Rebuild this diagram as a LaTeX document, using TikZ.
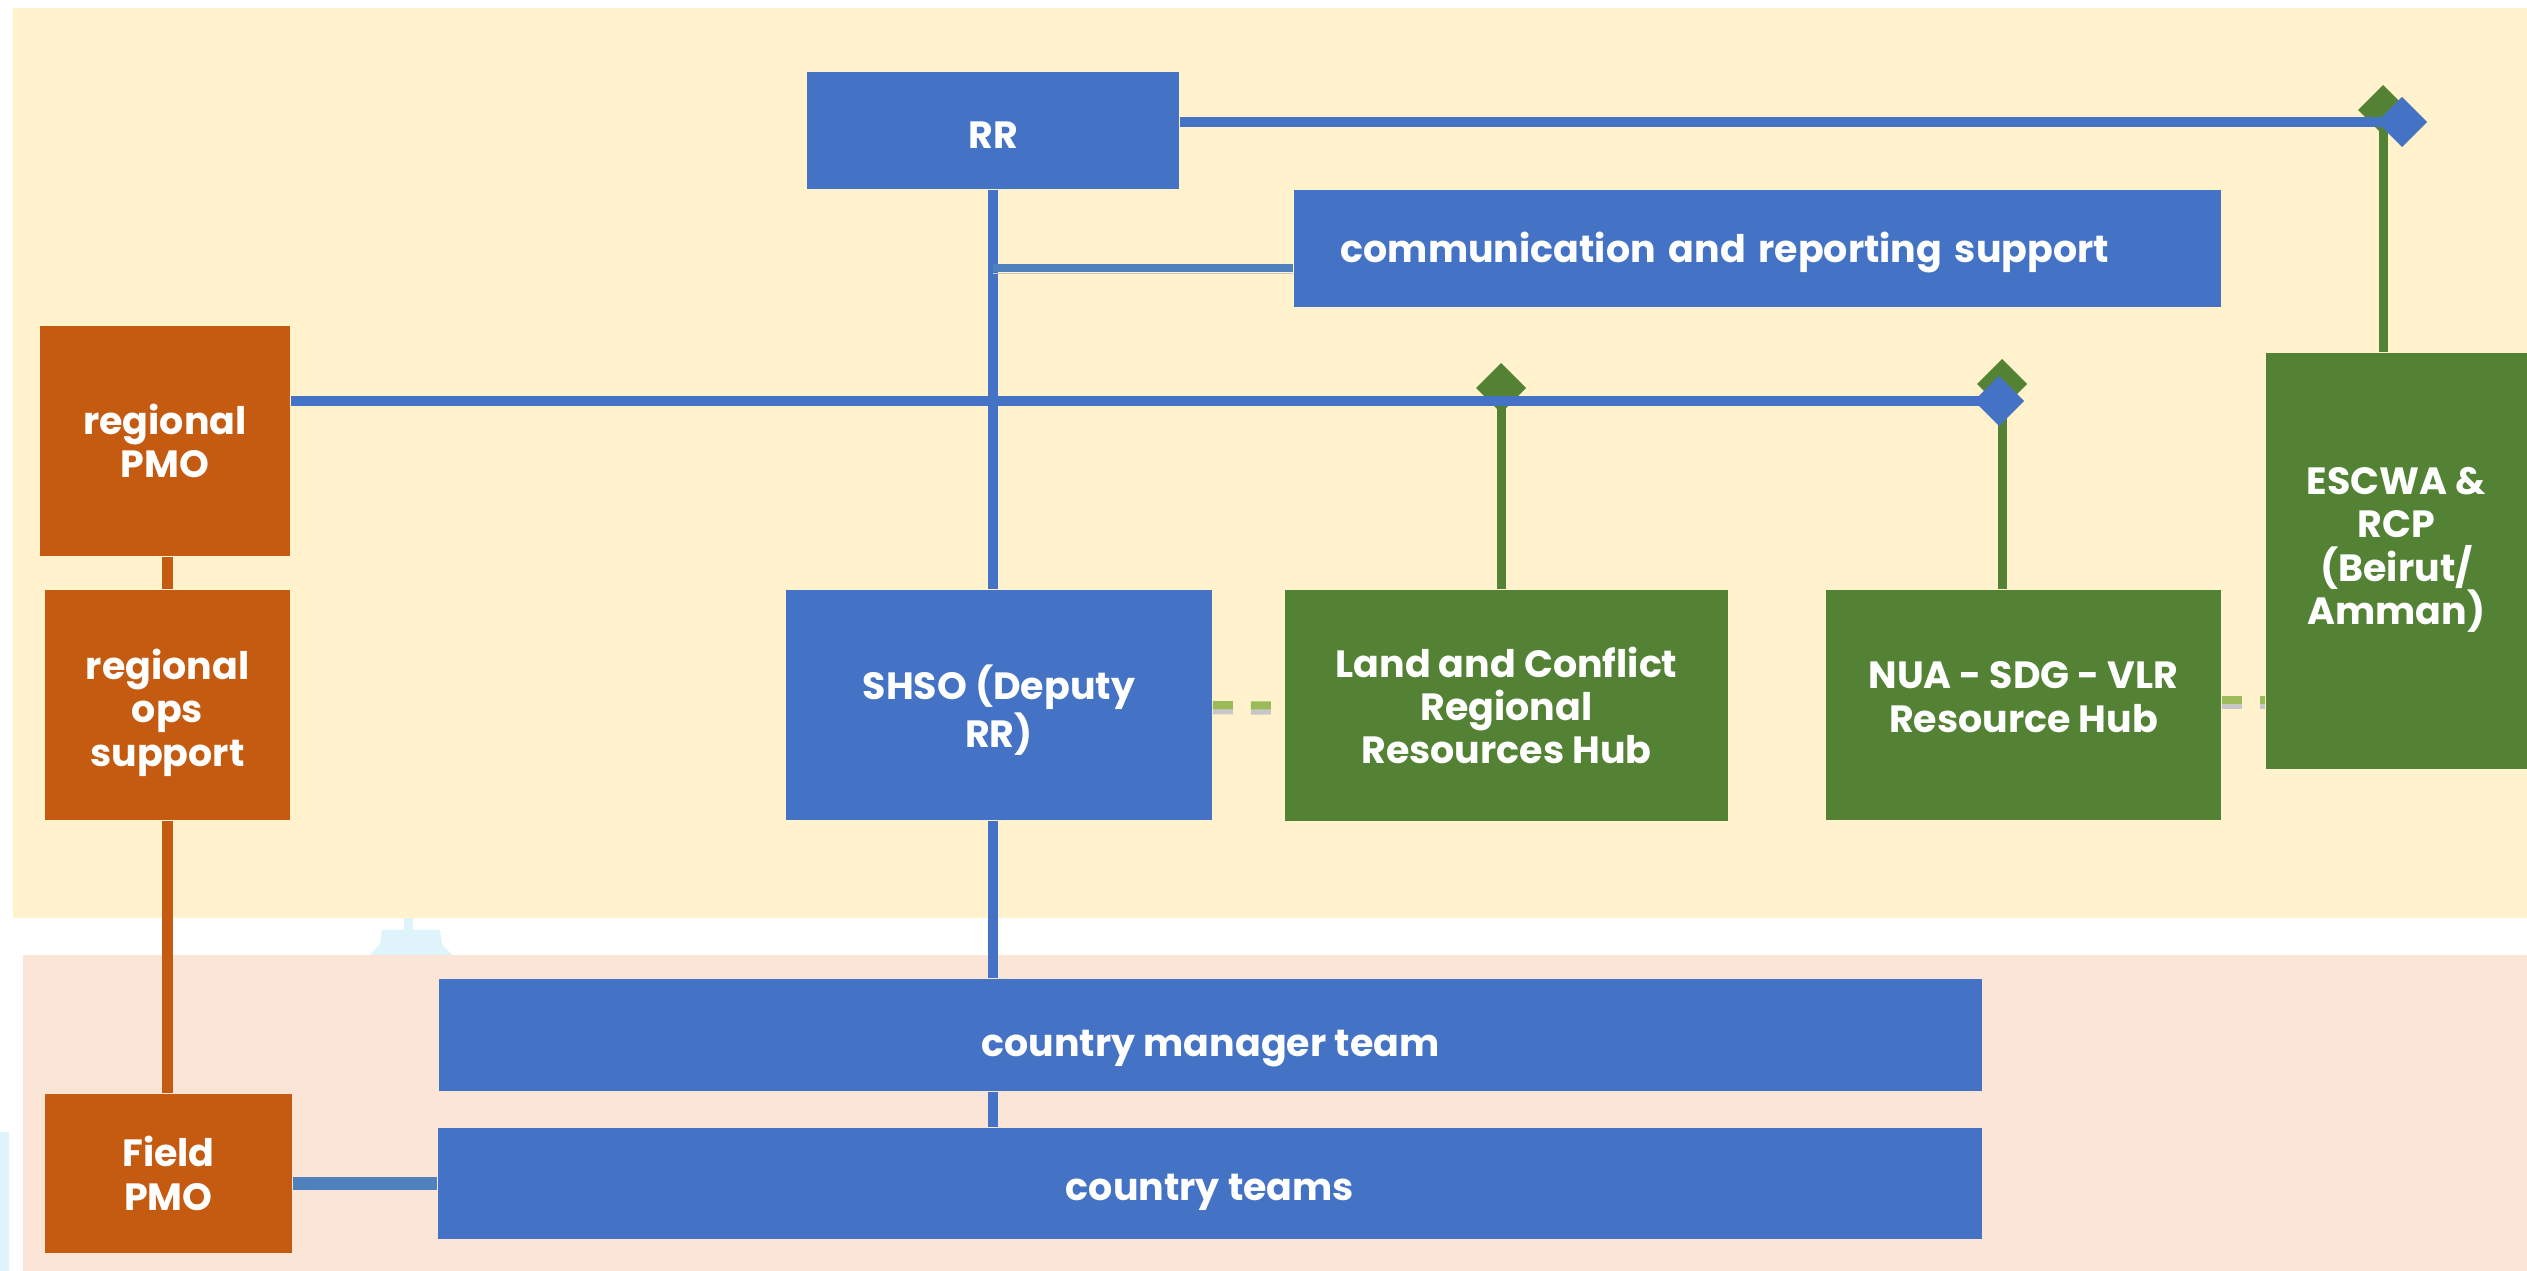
\documentclass[tikz,border=0pt]{standalone}
\usepackage{fontspec}
\setmainfont{Poppins}
\usetikzlibrary{arrows.meta,positioning}

\definecolor{bgyellow}{HTML}{FFF2CC}
\definecolor{bgpink}{HTML}{FBE5D6}
\definecolor{rrblue}{HTML}{4472C4}
\definecolor{linkblue}{HTML}{4F81BD}
\definecolor{hubgreen}{HTML}{548235}
\definecolor{dashgreen}{HTML}{9BBB59}
\definecolor{pmoorange}{HTML}{C55A11}
\definecolor{ghostblue}{HTML}{DFF3FA}

\newcommand{\boxfont}{\fontsize{10.8}{12.3}\selectfont\bfseries}
% struts to nudge box text down (first line) or up (last line)
\newcommand{\down}[1]{\rule{0pt}{#1}}
\newcommand{\up}[1]{\rule[-#1]{0pt}{0pt}}

\begin{document}
\begin{tikzpicture}[x=0.01cm, y=-0.01cm,
    unit/.style={rectangle, text=white, font=\boxfont, align=center, inner sep=0pt},
    bluebox/.style={unit, fill=rrblue},
    hubbox/.style={unit, fill=hubgreen},
    pmobox/.style={unit, fill=pmoorange},
    blueline/.style={draw=rrblue, line width=0.1cm},
    greenline/.style={draw=hubgreen, line width=0.09cm},
    pmoline/.style={draw=pmoorange, line width=0.1cm},
    linkline/.style={draw=linkblue, line width=0.08cm},
    dashlink/.style={draw=dashgreen, line width=0.08cm, dash pattern=on 0.2cm off 0.18cm,
        preaction={draw=black!22, line width=0.08cm, dash pattern=on 0.2cm off 0.18cm,
                   transform canvas={yshift=-1.5pt}}},
    shadowed/.style={preaction={draw=black!22, transform canvas={yshift=-1.5pt}}},
    tip/.style={-{Diamond[length=0.5cm,width=0.5cm]}}
]
    \useasboundingbox (0,0) rectangle (2527,1271);
    % backgrounds
    \fill[white] (0,0) rectangle (2527,1271);
    \fill[bgyellow] (13,8) rectangle (2527,918);
    \fill[bgpink] (23,955) rectangle (2527,1271);
    \fill[ghostblue] (404,918) rectangle (413,932);
    \fill[ghostblue] (382,930) -- (440,930) -- (442,944) -- (452,955) -- (370,955) -- (380,944) -- cycle;
    \fill[ghostblue] (0,1132) rectangle (9,1271);

    % boxes
    \node[bluebox, minimum width=3.72cm, minimum height=1.17cm] (rr) at (993,130.5) {\down{0.36cm}RR};
    \node[bluebox, minimum width=9.27cm, minimum height=1.17cm, text width=8.33cm,
          align=left, inner xsep=0.47cm] (comm) at (1757.5,248.5) {\down{0.38cm}communication and reporting support};
    \node[pmobox, minimum width=2.5cm, minimum height=2.3cm] (rpmo) at (165,441) {regional\\PMO};
    \node[pmobox, minimum width=2.45cm, minimum height=2.3cm] (ops) at (167.5,705) {\down{0.46cm}regional\\ops\\support};
    \node[pmobox, minimum width=2.47cm, minimum height=1.59cm] (fpmo) at (168.5,1173.5) {Field\\PMO};
    \node[bluebox, minimum width=4.26cm, minimum height=2.3cm] (shso) at (999,705) {\down{0.45cm}SHSO (Deputy\\RR)};
    \node[hubbox, minimum width=4.43cm, minimum height=2.31cm] (land) at (1506.5,705.5) {Land and Conflict\\Regional\\Resources Hub};
    \node[hubbox, minimum width=3.95cm, minimum height=2.3cm] (nua) at (2023.5,705) {NUA - SDG - VLR\\Resource Hub\up{0.16cm}};
    \node[hubbox, minimum width=2.61cm, minimum height=4.16cm] (escwa) at (2396.5,561) {ESCWA \&\\RCP\\(Beirut/\\Amman)\up{0.3cm}};
    \node[bluebox, minimum width=15.43cm, minimum height=1.12cm] (cmt) at (1210.5,1035) {\down{0.54cm}country manager team};
    \node[bluebox, minimum width=15.44cm, minimum height=1.11cm] (ct) at (1210,1183.5) {\down{0.44cm}country teams};

    % tip points
    \coordinate (landtip) at (1501,363);
    \coordinate (nuagtip) at (2002,359);
    \coordinate (nuabtip) at (2024,401);
    \coordinate (escwatip) at (2383,85);
    \coordinate (rrtip) at (2427,122);
    \coordinate (commjoin) at (rr.south |- 0,268);

    % hub links
    \draw[greenline, tip] (landtip |- land.north) -- (landtip);
    \draw[greenline, tip] (nuagtip |- nua.north) -- (nuagtip);
    \draw[greenline, tip] (escwatip |- escwa.north) -- (escwatip);
    \draw[blueline, tip] (rpmo.east |- nuabtip) -- (nuabtip);
    \draw[blueline, tip] (rr.east |- rrtip) -- (rrtip);

    % main line
    \draw[blueline] (rr.south) -- (rr.south |- shso.north);
    \draw[blueline] (rr.south |- shso.south) -- (rr.south |- cmt.north);
    \draw[blueline] (rr.south |- cmt.south) -- (rr.south |- ct.north);
    \draw[linkline, shadowed] (commjoin) -- (commjoin -| comm.west);

    % dashed links
    \draw[dashlink] (shso.east) -- (land.west);
    \draw[dashlink] (nua.east |- 0,700) -- (escwa.west |- 0,700);

    % pmo links
    \draw[pmoline] (ops.north |- rpmo.south) -- (ops.north);
    \draw[pmoline] (ops.south) -- (ops.south |- fpmo.north);
    \draw[linkline, line width=0.12cm] (ct.west -| fpmo.east) -- (ct.west);
\end{tikzpicture}
\end{document}
